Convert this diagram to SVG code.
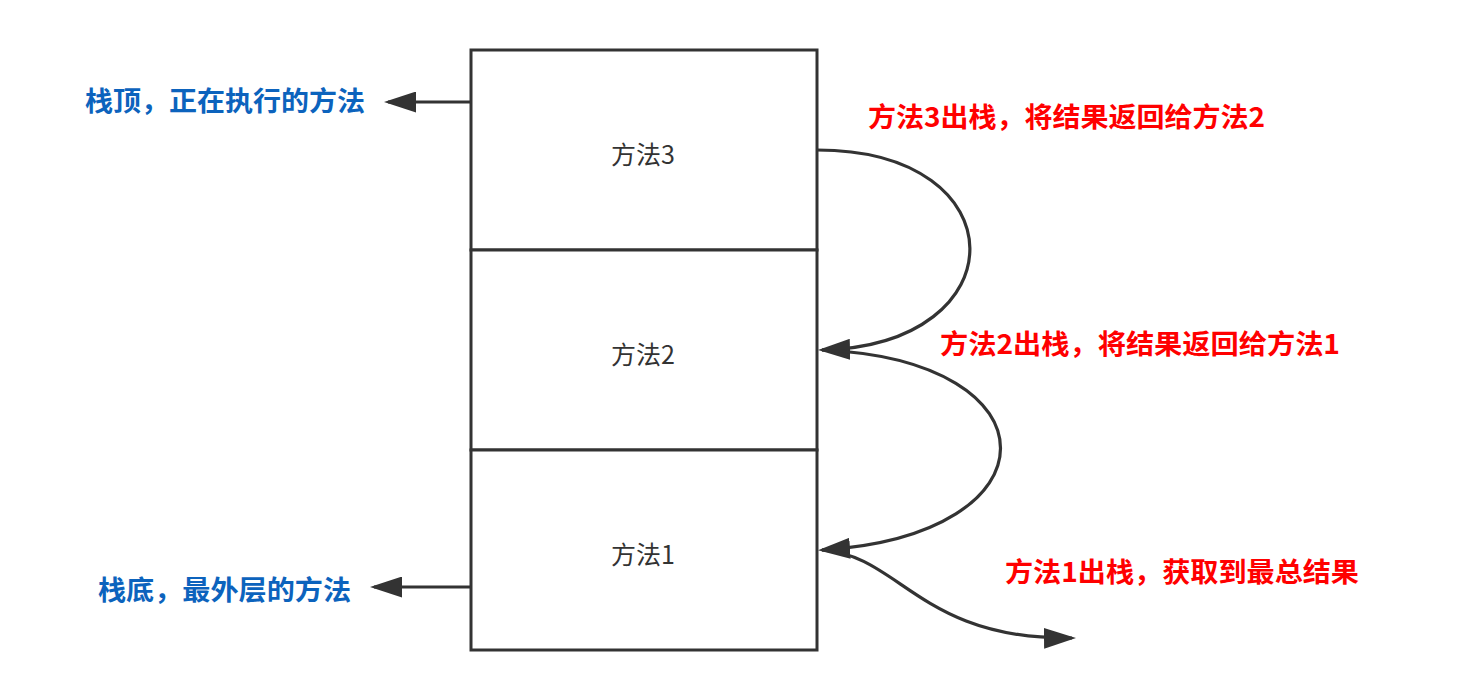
<svg xmlns="http://www.w3.org/2000/svg" width="1481" height="700" viewBox="0 0 1481 700">
<style>
.box{fill:#fff;stroke:#333;stroke-width:3}
.lbl{font-family:"Noto Sans CJK SC","Noto Sans",sans-serif;font-size:25px;fill:#333;text-anchor:middle}
.blue{font-family:"Noto Sans CJK SC","Noto Sans",sans-serif;font-size:27px;font-weight:bold;fill:#0C63BD}
.red{font-family:"Noto Sans CJK SC","Noto Sans",sans-serif;font-size:27px;font-weight:bold;fill:#F00}
.conn{fill:none;stroke:#333;stroke-width:3.2}
</style>
<defs>
<marker id="arr" markerUnits="userSpaceOnUse" viewBox="0 0 32 21" refX="28" refY="10.5" markerWidth="32" markerHeight="21" orient="auto">
<path d="M0,0 L32,10.5 L0,21 Z" fill="#333"/>
</marker>
</defs>
<rect width="1481" height="700" fill="#fff"/>
<g id="method3">
<rect class="box" x="471" y="50" width="346" height="200"/>
<text class="lbl" x="643" y="164">方法3</text>
</g>
<g id="method2">
<rect class="box" x="471" y="250" width="346" height="200"/>
<text class="lbl" x="643" y="364">方法2</text>
</g>
<g id="method1">
<rect class="box" x="471" y="450" width="346" height="200"/>
<text class="lbl" x="643" y="564">方法1</text>
</g>
<g id="label-top">
<text class="blue" x="85" y="111" textLength="280" lengthAdjust="spacingAndGlyphs">栈顶，正在执行的方法</text>
</g>
<g id="label-bottom">
<text class="blue" x="98" y="600" textLength="253" lengthAdjust="spacingAndGlyphs">栈底，最外层的方法</text>
</g>
<g id="label-pop3">
<text class="red" x="868" y="127" textLength="397" lengthAdjust="spacingAndGlyphs">方法3出栈，将结果返回给方法2</text>
</g>
<g id="label-pop2">
<text class="red" x="940" y="354" textLength="400" lengthAdjust="spacingAndGlyphs">方法2出栈，将结果返回给方法1</text>
</g>
<g id="label-pop1">
<text class="red" x="1005" y="582" textLength="354" lengthAdjust="spacingAndGlyphs">方法1出栈，获取到最总结果</text>
</g>
<g id="connectors">
<path class="conn" d="M471,102 L388,102" marker-end="url(#arr)"/>
<path class="conn" d="M471,587 L374,587" marker-end="url(#arr)"/>
<path class="conn" d="M817,150 C1020,150 1020,345 822,350" marker-end="url(#arr)"/>
<path class="conn" d="M822,350 C1060,360 1060,535 822,550" marker-end="url(#arr)"/>
<path class="conn" d="M822,550 C900,555 920,640 1072,638" marker-end="url(#arr)"/>
</g>
</svg>
